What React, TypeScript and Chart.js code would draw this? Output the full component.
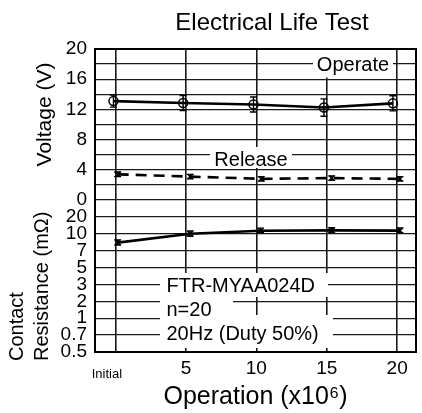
import React, { useEffect, useRef } from 'react';
import { Chart, LinearScale, registerables } from 'chart.js';

Chart.register(...registerables);

// ---------- data ----------
const cycles = [0, 5, 10, 15, 20];
const xTickLabels = ['Initial', '5', '10', '15', '20'];

const operateX = [-0.15, 4.8, 9.8, 14.8, 19.7];
const operateV = [13.1, 12.85, 12.65, 12.25, 12.8];
const operateErr = [0.8, 1.0, 1.0, 1.15, 1.0];

const releaseX = [0.15, 5.3, 10.35, 15.35, 20.2];
const releaseV = [3.4, 3.1, 2.8, 2.9, 2.8];
const releaseErr = [0.3, 0.3, 0.3, 0.3, 0.3];

const resistX = [0.15, 5.3, 10.3, 15.35, 20.2];
const resistMOhm = [8.3, 10.0, 11.3, 11.5, 11.4];
const resistLo = [7.9, 9.5, 10.4, 10.6, 10.5];
const resistHi = [8.8, 11.2, 12.6, 12.8, 12.7];

const voltageLabelStep = 4;
const resistanceTicks = [0.5, 0.7, 1, 2, 3, 5, 7, 10, 20];

const chartTitle = 'Electrical Life Test';
const voltageTitle = 'Voltage (V)';
const resistanceTitle = ['Contact', 'Resistance (mΩ)'];
const xTitle = 'Operation (x10⁶)';
const operateLabel = 'Operate';
const releaseLabel = 'Release';
const noteLines = ['FTR-MYAA024D', 'n=20', '20Hz (Duty 50%)'];

// ---------- styling ----------
const FONT = "'Liberation Sans', Arial, Helvetica, sans-serif";

function resistanceIndex(v: number): number {
  const t = resistanceTicks;
  for (let i = 0; i < t.length - 2; i++) {
    if (v <= t[i + 1]) return i + Math.log(v / t[i]) / Math.log(t[i + 1] / t[i]);
  }
  const n = t.length - 2;
  return n + Math.log(v / t[n]) / Math.log(t[n + 1] / t[n]);
}

class ResistanceScale extends LinearScale {
  static id = 'resistance';
  static defaults = {};
  determineDataLimits() {
    (this as any).min = resistanceTicks[0];
    (this as any).max = resistanceTicks[resistanceTicks.length - 1];
  }
  buildTicks() {
    return resistanceTicks.map((value) => ({ value }));
  }
  getPixelForValue(value: number) {
    return (this as any).getPixelForDecimal(resistanceIndex(value) / resistanceTicks.length);
  }
  getValueForPixel(pixel: number) {
    const d = (this as any).getDecimalForPixel(pixel) * resistanceTicks.length;
    const i = Math.max(0, Math.min(resistanceTicks.length - 2, Math.floor(d)));
    const a = resistanceTicks[i];
    const b = resistanceTicks[i + 1];
    return a * Math.pow(b / a, d - i);
  }
}
Chart.register(ResistanceScale as any);

const boxes = [
  { text: operateLabel, align: 'center', tx: 353, ty: 65.5, x: 313, y: 50, w: 80, h: 27.5 },
  { text: releaseLabel, align: 'center', tx: 251, ty: 160, x: 210, y: 147, w: 82, h: 21 },
  { text: noteLines[0], align: 'left', tx: 166.5, ty: 286.7, x: 160, y: 273, w: 168, h: 24 },
  { text: noteLines[1], align: 'left', tx: 166.5, ty: 310.5, x: 160, y: 297, w: 73, h: 18 },
  { text: noteLines[2], align: 'left', tx: 166.5, ty: 334, x: 160, y: 315, w: 173, h: 33 },
];

const decorPlugin = {
  id: 'decor',
  beforeDatasetsDraw(chart: any) {
    const ctx = chart.ctx;
    const { left, right, top, bottom } = chart.chartArea;
    ctx.save();
    ctx.fillStyle = '#ffffff';
    boxes.forEach((b) => ctx.fillRect(b.x, b.y, b.w, b.h));
    ctx.strokeStyle = '#000';
    ctx.lineWidth = 2;
    ctx.strokeRect(left, top, right - left, bottom - top);
    ctx.fillStyle = '#000';
    ctx.font = `20px ${FONT}`;
    ctx.textBaseline = 'middle';
    boxes.forEach((b) => {
      ctx.textAlign = b.align as CanvasTextAlign;
      ctx.fillText(b.text, b.tx, b.ty);
    });
    ctx.restore();
  },
  afterDatasetsDraw(chart: any) {
    const ctx = chart.ctx;
    const x = chart.scales.x;
    const yV = chart.scales.yV;
    const yR = chart.scales.yR;
    ctx.save();
    ctx.strokeStyle = '#000';
    ctx.lineWidth = 1.4;
    const bar = (xv: number, lo: number, hi: number, scale: any) => {
      const px = x.getPixelForValue(xv);
      const p1 = scale.getPixelForValue(lo);
      const p2 = scale.getPixelForValue(hi);
      ctx.beginPath();
      ctx.moveTo(px, p1);
      ctx.lineTo(px, p2);
      ctx.moveTo(px - 3.5, p1);
      ctx.lineTo(px + 3.5, p1);
      ctx.moveTo(px - 3.5, p2);
      ctx.lineTo(px + 3.5, p2);
      ctx.stroke();
    };
    operateX.forEach((xv, i) => bar(xv, operateV[i] - operateErr[i], operateV[i] + operateErr[i], yV));
    releaseX.forEach((xv, i) => bar(xv, releaseV[i] - releaseErr[i], releaseV[i] + releaseErr[i], yV));
    resistX.forEach((xv, i) => bar(xv, resistLo[i], resistHi[i], yR));
    ctx.restore();
  },
  afterDraw(chart: any) {
    const ctx = chart.ctx;
    const x = chart.scales.x;
    ctx.save();
    ctx.fillStyle = '#000';
    ctx.textBaseline = 'middle';
    // chart title
    ctx.font = `24px ${FONT}`;
    ctx.textAlign = 'center';
    ctx.fillText(chartTitle, 272, 23);
    // "Initial" tick label
    ctx.font = `13px ${FONT}`;
    ctx.fillText(xTickLabels[0], x.getPixelForValue(cycles[0]) - 8.7, 374);
    // voltage axis title
    ctx.save();
    ctx.font = `21px ${FONT}`;
    ctx.translate(45, 114.5);
    ctx.rotate(-Math.PI / 2);
    ctx.textAlign = 'center';
    ctx.fillText(voltageTitle, 0, 0);
    ctx.restore();
    // resistance axis title (two lines, bottom aligned)
    ctx.font = `20px ${FONT}`;
    const xs = [17.5, 42];
    resistanceTitle.forEach((line, i) => {
      ctx.save();
      ctx.translate(xs[i], 361);
      ctx.rotate(-Math.PI / 2);
      ctx.textAlign = 'left';
      ctx.fillText(line, 0, 0);
      ctx.restore();
    });
    ctx.restore();
  },
};

export default function App() {
  const ref = useRef<HTMLCanvasElement>(null);
  useEffect(() => {
    const canvas = ref.current;
    if (!canvas) return;
    Chart.defaults.font.family = FONT;
    const chart = new Chart(canvas, {
      type: 'line',
      data: {
        datasets: [
          {
            label: operateLabel,
            data: operateX.map((xv, i) => ({ x: xv, y: operateV[i] })),
            yAxisID: 'yV',
            borderColor: '#000',
            borderWidth: 2.6,
            pointStyle: 'circle',
            pointRadius: 4.5,
            pointBorderWidth: 1.5,
            pointBorderColor: '#000',
            pointBackgroundColor: 'rgba(255,255,255,0)',
            tension: 0,
          },
          {
            label: releaseLabel,
            data: releaseX.map((xv, i) => ({ x: xv, y: releaseV[i] })),
            yAxisID: 'yV',
            borderColor: '#000',
            borderWidth: 2.6,
            borderDash: [11, 7],
            pointStyle: 'crossRot',
            pointRadius: 3.5,
            pointBorderWidth: 1.5,
            pointBorderColor: '#000',
            tension: 0,
          },
          {
            label: 'Contact Resistance',
            data: resistX.map((xv, i) => ({ x: xv, y: resistMOhm[i] })),
            yAxisID: 'yR',
            borderColor: '#000',
            borderWidth: 2.6,
            pointStyle: 'crossRot',
            pointRadius: 3.5,
            pointBorderWidth: 1.5,
            pointBorderColor: '#000',
            tension: 0,
          },
        ],
      },
      options: {
        responsive: false,
        animation: false,
        events: [],
        layout: { padding: { top: 49, right: 3, bottom: 0, left: 0 } },
        plugins: {
          legend: { display: false },
          tooltip: { enabled: false },
          title: { display: false },
        },
        scales: {
          x: {
            type: 'linear',
            position: 'bottom',
            min: -1.46,
            max: 21.34,
            afterBuildTicks: (s: any) => {
              s.ticks = cycles.map((value) => ({ value }));
            },
            afterFit: (s: any) => {
              s.height = 61;
            },
            grid: { color: '#1a1a1a', lineWidth: 1.6, drawTicks: false },
            border: { display: false },
            ticks: {
              autoSkip: false,
              maxRotation: 0,
              padding: 5,
              color: '#000',
              font: { family: FONT, size: 19 },
              callback: (_v: any, i: number) => (i === 0 ? '' : xTickLabels[i]),
            },
            title: {
              display: true,
              text: xTitle,
              color: '#000',
              font: { family: FONT, size: 25 },
              padding: { top: 0, bottom: 1 },
            },
          },
          yR: {
            type: 'resistance' as any,
            position: 'left',
            stack: 'panels',
            stackWeight: 152,
            weight: 1,
            afterFit: (s: any) => {
              s.width = 95;
            },
            grid: { color: '#1a1a1a', lineWidth: 1.3, drawTicks: false },
            border: { display: false },
            ticks: {
              autoSkip: false,
              padding: 8,
              color: '#000',
              font: { family: FONT, size: 19 },
              callback: (v: any) => String(v),
            },
          },
          yV: {
            type: 'linear',
            position: 'left',
            stack: 'panels',
            stackWeight: 151,
            weight: 2,
            min: 0,
            max: 20,
            afterFit: (s: any) => {
              s.width = 95;
            },
            grid: { color: '#1a1a1a', lineWidth: 1.3, drawTicks: false },
            border: { display: false },
            ticks: {
              stepSize: 2,
              autoSkip: false,
              padding: 8,
              color: '#000',
              font: { family: FONT, size: 19 },
              callback: (v: any) => (Number(v) % voltageLabelStep === 0 ? String(v) : ''),
            },
          },
        } as any,
      },
      plugins: [decorPlugin],
    });
    return () => chart.destroy();
  }, []);

  return (
    <div style={{ position: 'fixed', left: 0, top: 0, width: 422, height: 413, background: '#fff' }}>
      <canvas ref={ref} width={422} height={413} style={{ display: 'block', width: 422, height: 413 }} />
    </div>
  );
}
